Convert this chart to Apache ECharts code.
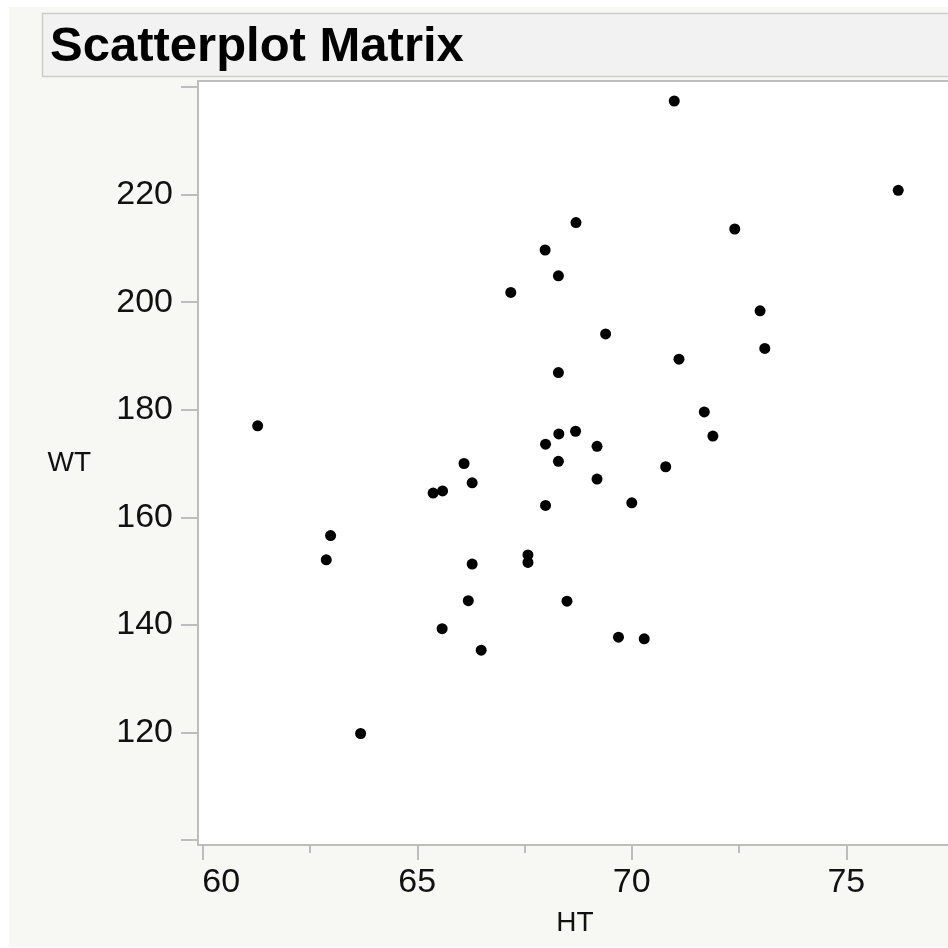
<!DOCTYPE html>
<html>
<head>
<meta charset="utf-8">
<script src="https://cdn.jsdelivr.net/npm/echarts@6/dist/echarts.min.js"></script>
<style>
  html, body { margin: 0; padding: 0; background: #fff; }
  #chart { width: 948px; height: 948px; }
</style>
</head>
<body>
<div id="chart"></div>
<script>
// HT / WT pairs
var htValues = [61.28, 62.88, 62.98, 63.68, 65.37, 65.59, 65.58, 66.09, 66.28, 66.28,
                66.19, 66.49, 67.18, 67.58, 67.58, 67.98, 67.99, 67.99, 68.29, 68.29,
                68.30, 68.29, 68.70, 68.69, 68.49, 69.39, 69.19, 69.19, 69.69, 70.00,
                70.29, 70.79, 70.99, 71.10, 71.69, 71.89, 72.40, 72.99, 73.10, 76.21];
var wtValues = [177.0, 152.1, 156.6, 119.8, 164.5, 164.9, 139.3, 170.0, 166.4, 151.3,
                144.5, 135.3, 201.8, 153.0, 151.6, 209.7, 173.6, 162.2, 204.9, 186.9,
                175.5, 170.4, 214.8, 176.0, 144.4, 194.1, 173.2, 167.1, 137.7, 162.7,
                137.4, 169.4, 237.4, 189.4, 179.6, 175.1, 213.6, 198.4, 191.4, 220.8];

var xTicks = [60, 65, 70, 75];
var xMinorTicks = [62.5, 67.5, 72.5];
var yTicks = [100, 120, 140, 160, 180, 200, 220, 240];
var yLabels = [120, 140, 160, 180, 200, 220];

var points = htValues.map(function (h, i) { return [h, wtValues[i]]; });

var font = "'Liberation Sans', Arial, Helvetica, sans-serif";
var frame = '#bdbdbd';
var ink = '#111';

var chart = echarts.init(document.getElementById('chart'), null, { renderer: 'canvas' });

chart.setOption({
  animation: false,
  textStyle: { fontFamily: font, color: ink },
  graphic: [
    {
      type: 'rect', z: -5,
      shape: { x: 9, y: 7, width: 939, height: 940 },
      style: { fill: '#f7f7f3' }
    },
    {
      type: 'rect', z: -4,
      shape: { x: 42.5, y: 13.5, width: 920, height: 63 },
      style: { fill: '#f2f2f2', stroke: '#cccccc', lineWidth: 1.5 }
    },
    {
      type: 'text', z: 5,
      x: 50, y: 47,
      style: {
        text: 'Scatterplot Matrix',
        font: 'bold 49px ' + font,
        fill: '#000',
        verticalAlign: 'middle'
      }
    }
  ],
  grid: {
    left: 198,
    top: 81,
    right: 0,
    height: 764,
    show: true,
    backgroundColor: '#fff',
    borderWidth: 0
  },
  xAxis: [
    {
      type: 'value',
      position: 'bottom',
      min: 59.89,
      max: 77.37,
      name: 'HT',
      nameLocation: 'middle',
      nameGap: 64,
      nameTextStyle: { fontSize: 28, color: ink, padding: [0, 0, 0, 4] },
      axisLine: { show: true, onZero: false, lineStyle: { color: frame, width: 2 } },
      axisTick: { show: true, length: 15, customValues: xTicks, lineStyle: { color: frame, width: 2 } },
      axisLabel: {
        show: true,
        customValues: xTicks,
        fontSize: 34,
        color: ink,
        margin: 21,
        formatter: function (v) { return v === 60 ? '{s|60}' : String(v); },
        rich: { s: { fontSize: 34, color: ink, padding: [0, 0, 0, 37] } }
      },
      splitLine: { show: false }
    },
    {
      type: 'value',
      position: 'bottom',
      min: 59.89,
      max: 77.37,
      axisLine: { show: false },
      axisTick: { show: true, length: 8, customValues: xMinorTicks, lineStyle: { color: frame, width: 2 } },
      axisLabel: { show: false },
      splitLine: { show: false }
    },
    {
      type: 'value',
      position: 'top',
      min: 59.89,
      max: 77.37,
      axisLine: { show: true, onZero: false, lineStyle: { color: frame, width: 2 } },
      axisTick: { show: false },
      axisLabel: { show: false },
      splitLine: { show: false }
    }
  ],
  yAxis: {
    type: 'value',
    min: 99.07,
    max: 241.12,
    name: 'WT',
    nameLocation: 'middle',
    nameRotate: 0,
    nameGap: 107,
    nameTextStyle: { fontSize: 28, color: ink, padding: [0, 0, 10, 0] },
    axisLine: { show: true, onZero: false, lineStyle: { color: frame, width: 2 } },
    axisTick: { show: true, length: 17, customValues: yTicks, lineStyle: { color: frame, width: 2 } },
    axisLabel: { show: true, customValues: yLabels, fontSize: 34, color: ink, margin: 25 },
    splitLine: { show: false }
  },
  series: [
    {
      type: 'scatter',
      xAxisIndex: 0,
      yAxisIndex: 0,
      symbol: 'circle',
      symbolSize: 11,
      itemStyle: { color: '#000', opacity: 1 },
      data: points
    }
  ]
});
</script>
</body>
</html>
